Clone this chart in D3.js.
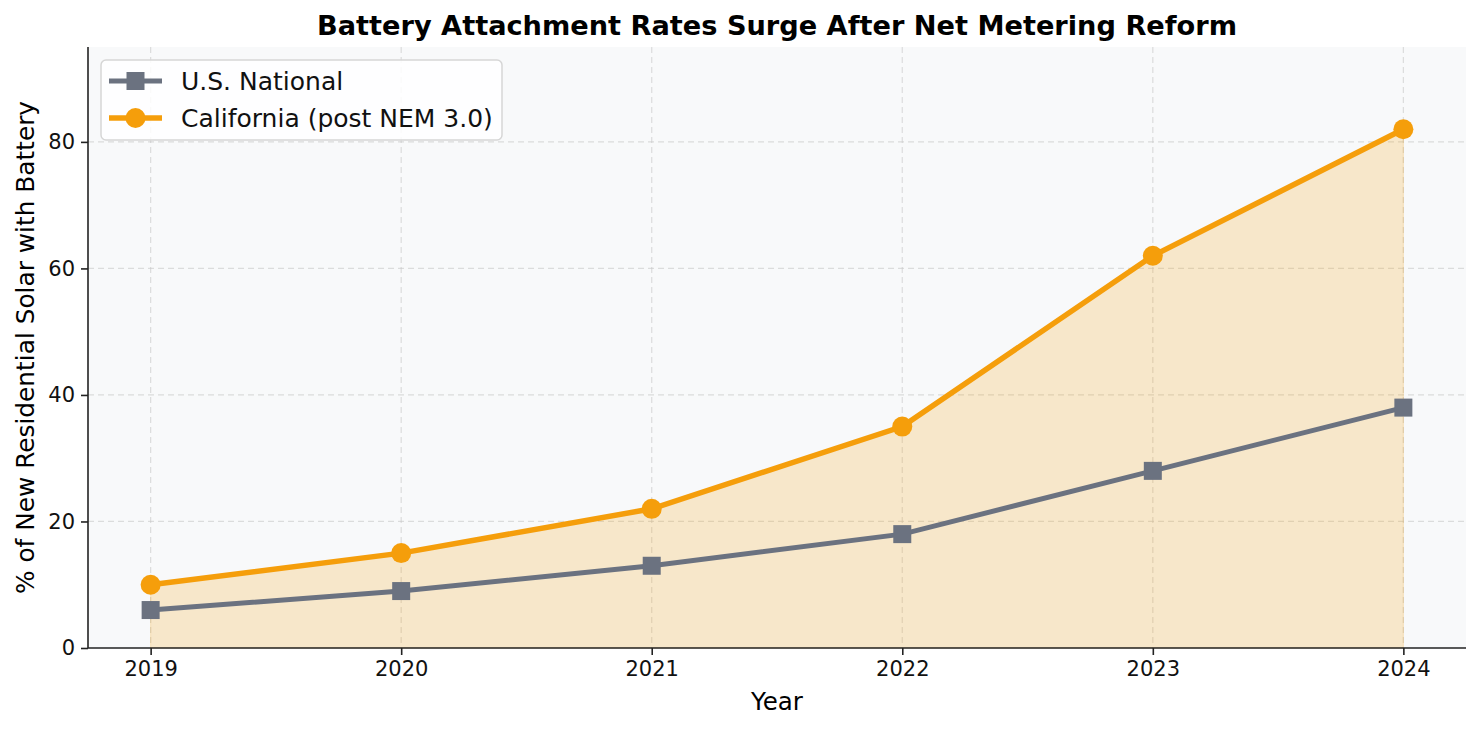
<!DOCTYPE html>
<html>
<meta charset="utf-8">
<head>
<script src="https://cdnjs.cloudflare.com/ajax/libs/d3/7.8.5/d3.min.js"></script>
</head>
<style>
body { margin: 0; background: #fff; font-family: "DejaVu Sans", sans-serif; }
.axis path, .axis line { stroke: #222; stroke-width: 1.6px; }
.axis text { font-size: 21px; fill: #111; font-family: "DejaVu Sans", sans-serif; }
.grid line { stroke: #c8c8c8; stroke-opacity: 0.6; stroke-dasharray: 6,4; stroke-width: 1.2px; }
</style>
<body>
<svg id="canvas"></svg>
<script>
// data
const years = [2019, 2020, 2021, 2022, 2023, 2024];
const usNational = [6, 9, 13, 18, 28, 38];
const california = [10, 15, 22, 35, 62, 82];
const yTicks = [0, 20, 40, 60, 80];
const seriesNames = ["U.S. National", "California (post NEM 3.0)"];

const W = 1482, H = 730;
const m = {left: 88, right: 16, top: 47, bottom: 82};
const iw = W - m.left - m.right, ih = H - m.top - m.bottom;

const svg = d3.select('#canvas').attr('width', W).attr('height', H);

const x = d3.scaleLinear().domain([2018.75, 2024.25]).range([0, iw]);
const y = d3.scaleLinear().domain([0, 95]).range([ih, 0]);

const g = svg.append('g').attr('transform', `translate(${m.left},${m.top})`);

// plot background
g.append('rect').attr('width', iw).attr('height', ih).attr('fill', '#f8f9fa');

// grid
g.append('g').classed('grid', true)
  .selectAll('line.v').data(years).enter().append('line')
  .attr('x1', d => x(d)).attr('x2', d => x(d)).attr('y1', 0).attr('y2', ih);
g.append('g').classed('grid', true)
  .selectAll('line.h').data(yTicks.slice(1)).enter().append('line')
  .attr('x1', 0).attr('x2', iw).attr('y1', d => y(d)).attr('y2', d => y(d));

// fill under California
const caData = years.map((yr, i) => ({x: yr, y: california[i]}));
const usData = years.map((yr, i) => ({x: yr, y: usNational[i]}));
g.append('path').datum(caData)
  .attr('fill', '#f59e0b').attr('fill-opacity', 0.2)
  .attr('stroke', '#f59e0b').attr('stroke-opacity', 0.2).attr('stroke-width', 1)
  .attr('d', d3.area().x(d => x(d.x)).y0(y(0)).y1(d => y(d.y)));

const line = d3.line().x(d => x(d.x)).y(d => y(d.y));

// US line + squares
g.append('path').datum(usData)
  .attr('fill', 'none').attr('stroke', '#6b7280').attr('stroke-width', 5)
  .attr('d', line);
g.selectAll('rect.us').data(usData).enter().append('rect')
  .attr('x', d => x(d.x) - 9).attr('y', d => y(d.y) - 9)
  .attr('width', 18).attr('height', 18).attr('fill', '#6b7280');

// CA line + circles
g.append('path').datum(caData)
  .attr('fill', 'none').attr('stroke', '#f59e0b').attr('stroke-width', 5.5)
  .attr('d', line);
g.selectAll('circle.ca').data(caData).enter().append('circle')
  .attr('cx', d => x(d.x)).attr('cy', d => y(d.y)).attr('r', 10)
  .attr('fill', '#f59e0b');

// axes
const xAxis = g.append('g').classed('axis', true)
  .attr('transform', `translate(0,${ih})`)
  .call(d3.axisBottom(x).tickValues(years).tickFormat(d3.format('d')).tickSize(7).tickPadding(6));
const yAxis = g.append('g').classed('axis', true)
  .call(d3.axisLeft(y).tickValues(yTicks).tickSize(7).tickPadding(6));
xAxis.select('.domain').attr('d', `M0,0H${iw}`);
yAxis.select('.domain').attr('d', `M0,0V${ih}`);

// legend
const lg = g.append('g').attr('transform', 'translate(13,13)');
lg.append('rect').attr('width', 401).attr('height', 80).attr('rx', 5)
  .attr('fill', '#fff').attr('fill-opacity', 0.85)
  .attr('stroke', '#d6d6d6').attr('stroke-width', 1.5);
const colors = ['#6b7280', '#f59e0b'];
seriesNames.forEach((name, i) => {
  const ly = 21 + i * 37;
  lg.append('line').attr('x1', 8).attr('x2', 61).attr('y1', ly).attr('y2', ly)
    .attr('stroke', colors[i]).attr('stroke-width', i === 0 ? 5 : 5.5);
  if (i === 0) {
    lg.append('rect').attr('x', 34.5 - 9).attr('y', ly - 9).attr('width', 18).attr('height', 18).attr('fill', colors[i]);
  } else {
    lg.append('circle').attr('cx', 34.5).attr('cy', ly).attr('r', 10).attr('fill', colors[i]);
  }
  lg.append('text').attr('x', 80).attr('y', ly + 9)
    .style('font-size', '25px').style('fill', '#111').text(name);
});

// title and axis labels
svg.append('text').attr('x', m.left + iw / 2).attr('y', 35)
  .attr('text-anchor', 'middle').style('font-size', '27.2px').style('font-weight', 'bold')
  .text('Battery Attachment Rates Surge After Net Metering Reform');
svg.append('text').attr('x', m.left + iw / 2).attr('y', 710)
  .attr('text-anchor', 'middle').style('font-size', '24.5px').text('Year');
svg.append('text')
  .attr('transform', `translate(34,${m.top + ih / 2}) rotate(-90)`)
  .attr('text-anchor', 'middle').style('font-size', '24.8px')
  .text('% of New Residential Solar with Battery');
</script>
</body>
</html>
